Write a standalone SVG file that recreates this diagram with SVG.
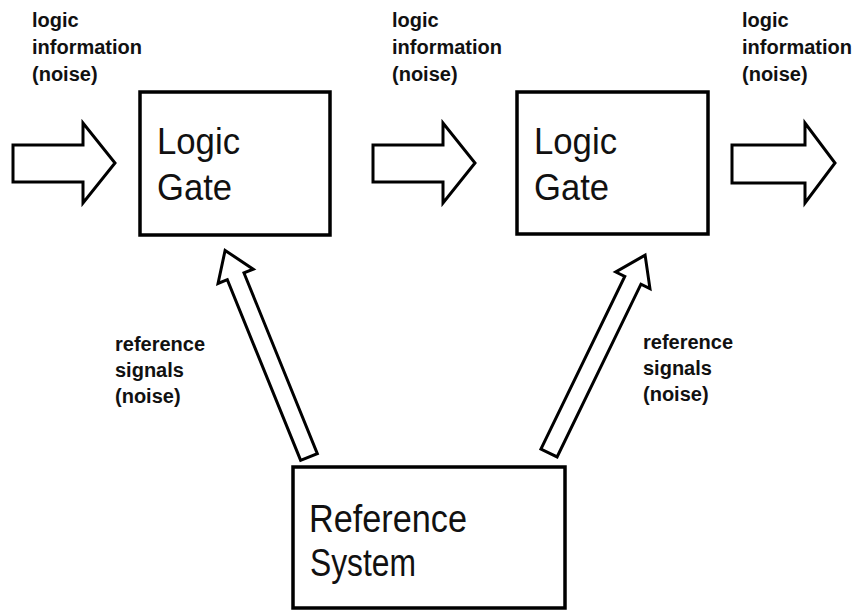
<svg xmlns="http://www.w3.org/2000/svg" width="854" height="612" viewBox="0 0 854 612">
<style>
  .box{fill:#fff;stroke:#000;stroke-width:3.5}
  .arr{fill:#fff;stroke:#000;stroke-width:3;stroke-linejoin:miter}
  .big{font-family:"Liberation Sans",Arial,sans-serif;font-size:36px;fill:#111}
  .ref{font-family:"Liberation Sans",Arial,sans-serif;font-size:38px;fill:#111}
  .lbl{font-family:"Liberation Sans",Arial,sans-serif;font-size:20px;font-weight:bold;fill:#111}
</style>
<rect width="854" height="612" fill="#fff"/>
<g id="connectors">
  <polygon class="arr" points="13,145 83,145 83,123 115,163 83,203 83,182 13,182"/>
  <polygon class="arr" points="373,145 443,145 443,123 475,163 443,203 443,182 373,182"/>
  <polygon class="arr" points="732,145 805,145 805,123 835,163 805,203 805,183 732,183"/>
  <polygon class="arr" transform="translate(309,457) rotate(-112.1)" points="0,-9 195,-9 195,-19 223,0 195,19 195,9 0,9"/>
  <polygon class="arr" transform="translate(549,453) rotate(-64.1)" points="0,-9 192,-9 192,-19 220,0 192,19 192,9 0,9"/>
</g>
<g id="gate1">
  <rect class="box" x="140" y="92" width="190" height="143"/>
  <text class="big" x="157" y="154" textLength="83" lengthAdjust="spacingAndGlyphs">Logic</text>
  <text class="big" x="157" y="200" textLength="75" lengthAdjust="spacingAndGlyphs">Gate</text>
</g>
<g id="gate2">
  <rect class="box" x="517" y="92" width="191" height="142"/>
  <text class="big" x="534" y="154" textLength="83" lengthAdjust="spacingAndGlyphs">Logic</text>
  <text class="big" x="534" y="200" textLength="75" lengthAdjust="spacingAndGlyphs">Gate</text>
</g>
<g id="reference-system">
  <rect class="box" x="293" y="467" width="272" height="141"/>
  <text class="ref" x="309" y="532" textLength="158" lengthAdjust="spacingAndGlyphs">Reference</text>
  <text class="ref" x="310" y="576" textLength="106" lengthAdjust="spacingAndGlyphs">System</text>
</g>
<g id="label-in">
  <text class="lbl" x="32" y="27">logic</text>
  <text class="lbl" x="32" y="54">information</text>
  <text class="lbl" x="32" y="81">(noise)</text>
</g>
<g id="label-mid">
  <text class="lbl" x="392" y="27">logic</text>
  <text class="lbl" x="392" y="54">information</text>
  <text class="lbl" x="392" y="81">(noise)</text>
</g>
<g id="label-out">
  <text class="lbl" x="742" y="27">logic</text>
  <text class="lbl" x="742" y="54">information</text>
  <text class="lbl" x="742" y="81">(noise)</text>
</g>
<g id="label-ref-left">
  <text class="lbl" x="115" y="351">reference</text>
  <text class="lbl" x="115" y="377">signals</text>
  <text class="lbl" x="115" y="403">(noise)</text>
</g>
<g id="label-ref-right">
  <text class="lbl" x="643" y="349">reference</text>
  <text class="lbl" x="643" y="375">signals</text>
  <text class="lbl" x="643" y="401">(noise)</text>
</g>
</svg>
